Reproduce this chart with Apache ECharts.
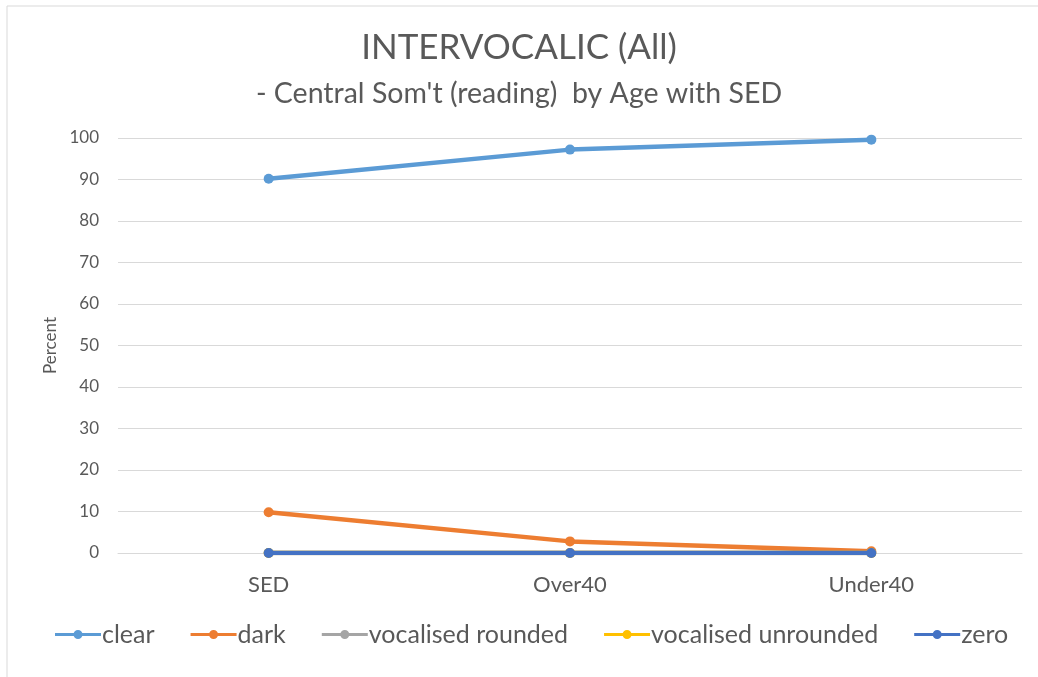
<!DOCTYPE html>
<html>
<head>
<meta charset="utf-8">
<script src="https://cdn.jsdelivr.net/npm/echarts@6/dist/echarts.min.js"></script>
<style>
  html, body { margin: 0; padding: 0; background: #fff; }
  #chart { width: 1038px; height: 677px; }
</style>
</head>
<body>
<div id="chart"></div>
<script>
// Age groups on the category axis
const categories = ['SED', 'Over40', 'Under40'];

// Percent of intervocalic tokens per variant
const clear = [90.2, 97.2, 99.6];
const dark = [9.8, 2.8, 0.4];
const vocalisedRounded = [0, 0, 0];
const vocalisedUnrounded = [0, 0, 0];
const zero = [0, 0, 0];

const seriesNames = ['clear', 'dark', 'vocalised rounded', 'vocalised unrounded', 'zero'];
const seriesColors = ['#5b9bd5', '#ed7d31', '#a5a5a5', '#ffc000', '#4472c4'];
const seriesData = [clear, dark, vocalisedRounded, vocalisedUnrounded, zero];

const FONT = 'Lato, "Open Sans", sans-serif';
const TEXT = '#595959';

const chart = echarts.init(document.getElementById('chart'), null, { renderer: 'canvas' });

chart.setOption({
  animation: false,
  backgroundColor: '#fff',
  graphic: [{
    type: 'rect',
    shape: { x: 7, y: 6, width: 1100, height: 800 },
    style: { fill: 'none', stroke: '#d9d9d9', lineWidth: 1 },
    silent: true
  }],
  title: [{
    text: 'INTERVOCALIC (All)',
    left: 'center',
    top: 25,
    textStyle: { fontFamily: FONT, fontWeight: 'normal', fontSize: 35, color: TEXT }
  }, {
    text: "- Central Som't (reading)  by Age with SED",
    left: 'center',
    top: 74,
    textStyle: { fontFamily: FONT, fontWeight: 'normal', fontSize: 28.5, color: TEXT }
  }],
  legend: {
    bottom: 25,
    left: 50,
    itemWidth: 46,
    itemHeight: 10,
    itemGap: 36,
    icon: 'path://M0,3.5 H46 V6.5 H0 Z M23,0.5 A4.5,4.5 0 1 1 23,9.5 A4.5,4.5 0 1 1 23,0.5 Z',
    textStyle: { fontFamily: FONT, fontSize: 25, color: TEXT, padding: [0, 0, 0, -4] },
    data: seriesNames
  },
  grid: { left: 118, right: 16, top: 138, bottom: 124 },
  xAxis: {
    type: 'category',
    data: categories,
    boundaryGap: true,
    axisLine: { show: true, lineStyle: { color: '#d9d9d9', width: 1 } },
    axisTick: { show: false },
    axisLabel: { fontFamily: FONT, fontSize: 22, color: TEXT, margin: 21 }
  },
  yAxis: {
    type: 'value',
    min: 0,
    max: 100,
    interval: 10,
    name: 'Percent',
    nameLocation: 'middle',
    nameGap: 50,
    nameRotate: 90,
    nameTextStyle: { fontFamily: FONT, fontSize: 17, color: TEXT },
    axisLine: { show: false },
    axisTick: { show: false },
    axisLabel: { fontFamily: FONT, fontSize: 17, color: TEXT, margin: 19 },
    splitLine: { lineStyle: { color: '#d9d9d9', width: 1 } }
  },
  series: seriesData.map((d, i) => ({
    name: seriesNames[i],
    type: 'line',
    data: d,
    symbol: 'circle',
    symbolSize: 10,
    showSymbol: true,
    z: 2 + i,
    itemStyle: { color: seriesColors[i] },
    lineStyle: { color: seriesColors[i], width: 4.5 }
  }))
});
</script>
</body>
</html>
